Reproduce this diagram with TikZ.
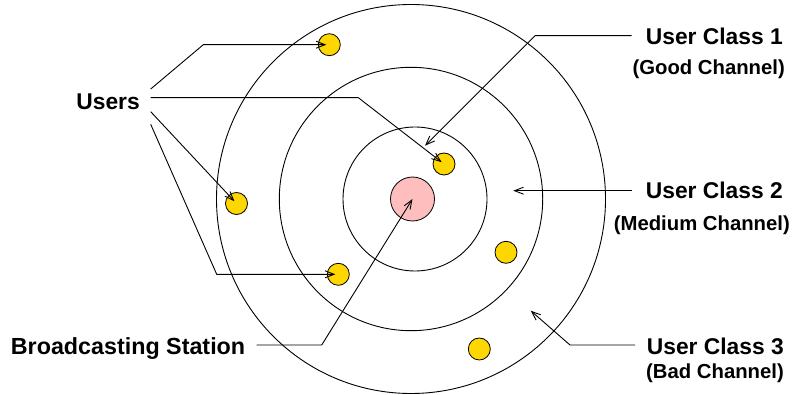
\documentclass[tikz,border=0pt]{standalone}
\usepackage{fontspec}
\setmainfont{Liberation Sans}
\usetikzlibrary{arrows.meta}
\definecolor{dotyellow}{RGB}{255,215,0}
\definecolor{stationpink}{RGB}{255,190,190}
\begin{document}
\begin{tikzpicture}[x=1pt,y=-1pt,
  ring/.style={draw, circle, inner sep=0, line width=0.9pt},
  user/.style={draw, circle, fill=dotyellow, minimum size=22pt, inner sep=0, line width=0.8pt},
  station/.style={draw, circle, fill=stationpink, minimum size=44pt, inner sep=0, line width=0.8pt},
  conn/.style={line width=0.9pt, -{Straight Barb[length=9pt,width=7pt]}},
  uconn/.style={conn, shorten >=3pt},
  title/.style={font=\fontsize{22.8}{26}\selectfont\bfseries, anchor=base east, inner sep=0},
  sub/.style={font=\fontsize{20.3}{23}\selectfont\bfseries, anchor=base east, inner sep=0}]
\useasboundingbox (0,0) rectangle (794,395);
% rings
\node[ring, minimum size=389pt] (outer) at (411,199) {};
\node[ring, minimum size=263.4pt] (middle) at (411,199) {};
\node[ring, minimum size=144pt] (inner) at (415,199) {};
% station and users
\node[station] (bs) at (412.5,199) {};
\node[user] (dA) at (329.3,44.7) {};
\node[user] (dB) at (444,164) {};
\node[user] (dC) at (236.5,203.5) {};
\node[user] (dD) at (338.3,274.3) {};
\node[user] (dE) at (506,252.3) {};
\node[user] (dF) at (479.3,349) {};
% labels
\node[title] (users) at (140,110) {Users};
\node[title] (uc1) at (783,45) {User Class 1};
\node[sub] (gc) at (785,75) {(Good Channel)};
\node[title] (uc2) at (783,198.3) {User Class 2};
\node[sub] (mc) at (790,230) {(Medium Channel)};
\node[title] (uc3) at (784,354) {User Class 3};
\node[sub] (bc) at (784,378.5) {(Bad Channel)};
\node[title, font=\fontsize{23.3}{26}\selectfont\bfseries, anchor=base west] (bsl) at (10.7,354) {Broadcasting Station};
% connector start points and free ends
\coordinate (u1) at (150.7,89);
\coordinate (u2) at (150.7,97.7);
\coordinate (u3) at (150.7,111.7);
\coordinate (u4) at (150.7,124.3);
\coordinate (c1s) at (631.7,35.7);
\coordinate (c1t) at (425,145.7);
\coordinate (c2s) at (631.7,190.7);
\coordinate (c2t) at (513.3,190.7);
\coordinate (c3s) at (635,345);
\coordinate (c3t) at (530.7,310.7);
\coordinate (bss) at (256.7,345);
% connectors
\draw[uconn] (u1) -- (203.3,44.7) -- (dA.center);
\draw[uconn] (u2) -- (358.3,97.7) -- (dB.center);
\draw[uconn] (u3) -- (dC.center);
\draw[uconn] (u4) -- (216.7,274.3) -- (dD.center);
\draw[conn] (c1s) -- (535,35.7) -- (c1t);
\draw[conn] (c2s) -- (c2t);
\draw[conn] (c3s) -- (570,345) -- (c3t);
\draw[conn] (bss) -- (321.7,345) -- (bs.center);
\end{tikzpicture}
\end{document}
